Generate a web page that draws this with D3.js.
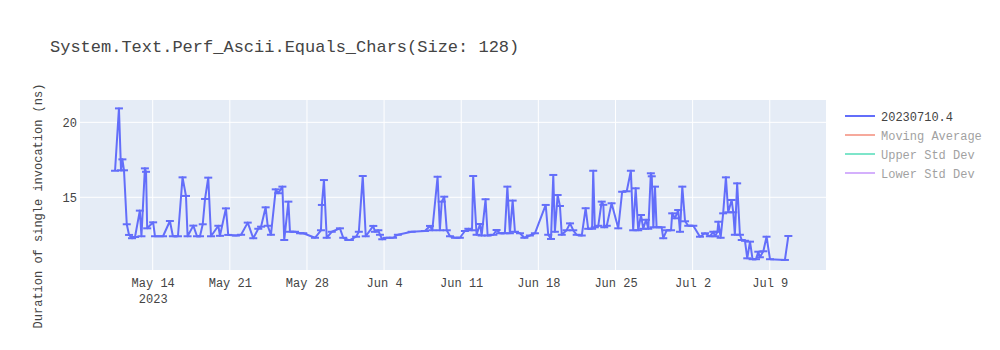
<!DOCTYPE html>
<html>
<head>
<meta charset="utf-8">
<script src="https://cdn.jsdelivr.net/npm/d3@7"></script>
<style>
  html, body { margin: 0; padding: 0; background: #fff; }
  svg { display: block; }
  text { font-family: "Courier New", "Liberation Mono", monospace; }
</style>
</head>
<body>
<div id="chart"></div>
<script>
const chartTitle = "System.Text.Perf_Ascii.Equals_Chars(Size: 128)";
const yTitle = "Duration of single invocation (ns)";
const seriesName = "20230710.4";
const legendNames = ["20230710.4", "Moving Average", "Upper Std Dev", "Lower Std Dev"];
const legendColors = ["#636efa", "#EF553B", "#00cc96", "#ab63fa"];
const legendVisible = [true, false, false, false];

const dates = [
  "2023-05-10T14:00","2023-05-10T22:30","2023-05-11T03:00","2023-05-11T06:00","2023-05-11T09:30",
  "2023-05-11T15:30","2023-05-11T20:30","2023-05-12T03:00","2023-05-12T09:30","2023-05-12T20:00",
  "2023-05-12T23:30","2023-05-13T07:00","2023-05-13T09:30","2023-05-13T12:00","2023-05-14T01:00",
  "2023-05-14T05:00","2023-05-14T22:30","2023-05-15T13:30","2023-05-15T20:00","2023-05-16T07:00",
  "2023-05-16T17:00","2023-05-17T00:30","2023-05-17T04:00","2023-05-17T16:30","2023-05-18T00:30",
  "2023-05-18T07:00","2023-05-18T13:00","2023-05-18T18:00","2023-05-19T01:00","2023-05-19T07:00",
  "2023-05-19T23:00","2023-05-20T02:30","2023-05-20T15:30","2023-05-20T20:30","2023-05-21T13:30",
  "2023-05-22T00:30","2023-05-22T15:00","2023-05-23T03:00","2023-05-23T14:00","2023-05-23T20:00",
  "2023-05-24T06:00","2023-05-24T10:30","2023-05-24T17:30","2023-05-25T04:00","2023-05-25T09:30",
  "2023-05-25T18:30","2023-05-25T22:30","2023-05-26T07:30","2023-05-26T11:00","2023-05-26T22:00",
  "2023-05-27T09:00","2023-05-27T16:00","2023-05-28T17:30","2023-05-29T06:30","2023-05-29T08:30",
  "2023-05-29T13:00","2023-05-29T19:00","2023-05-30T06:00","2023-05-30T23:50","2023-05-31T07:00",
  "2023-05-31T18:00","2023-05-31T21:30","2023-06-01T11:00","2023-06-01T17:00","2023-06-02T01:30",
  "2023-06-02T08:00","2023-06-03T00:30","2023-06-03T04:00","2023-06-03T11:30","2023-06-03T15:00",
  "2023-06-03T20:00","2023-06-04T05:30","2023-06-04T19:30","2023-06-05T06:00","2023-06-06T12:00",
  "2023-06-07T17:00","2023-06-08T04:00","2023-06-08T09:00","2023-06-08T20:30","2023-06-09T01:30",
  "2023-06-09T05:30","2023-06-09T11:00","2023-06-09T16:30","2023-06-09T23:30","2023-06-10T10:30",
  "2023-06-10T21:00","2023-06-11T08:00","2023-06-11T15:30","2023-06-11T23:30","2023-06-12T02:00",
  "2023-06-12T09:30","2023-06-12T17:00","2023-06-12T20:30","2023-06-13T05:00","2023-06-13T09:30",
  "2023-06-13T22:00","2023-06-14T05:00","2023-06-14T12:30","2023-06-14T23:00","2023-06-15T04:30",
  "2023-06-15T10:00","2023-06-15T16:00","2023-06-15T21:00","2023-06-16T08:00","2023-06-16T17:30",
  "2023-06-17T05:30","2023-06-17T16:30","2023-06-18T16:00","2023-06-18T21:30","2023-06-19T03:30",
  "2023-06-19T08:30","2023-06-19T12:00","2023-06-19T18:00","2023-06-19T23:00","2023-06-20T03:00",
  "2023-06-20T13:30","2023-06-20T21:00","2023-06-21T04:00","2023-06-21T11:30","2023-06-21T22:30",
  "2023-06-22T07:00","2023-06-22T12:30","2023-06-22T21:00","2023-06-22T23:30","2023-06-23T03:00",
  "2023-06-23T10:30","2023-06-23T18:00","2023-06-23T21:30","2023-06-23T23:30","2023-06-24T05:00",
  "2023-06-24T15:30","2023-06-25T06:00","2023-06-25T14:30","2023-06-26T00:30","2023-06-26T09:30",
  "2023-06-26T14:30","2023-06-26T20:00","2023-06-27T01:30","2023-06-27T07:30","2023-06-27T12:30",
  "2023-06-27T18:30","2023-06-27T23:30","2023-06-28T05:00","2023-06-28T07:00","2023-06-28T10:30",
  "2023-06-28T14:00","2023-06-28T17:30","2023-06-29T04:30","2023-06-29T08:00","2023-06-29T15:30",
  "2023-06-30T01:00","2023-06-30T03:30","2023-06-30T09:30","2023-06-30T16:30","2023-06-30T20:30",
  "2023-07-01T01:30","2023-07-01T07:30","2023-07-01T14:30","2023-07-02T01:30","2023-07-02T16:00",
  "2023-07-03T03:00","2023-07-03T13:30","2023-07-03T21:00","2023-07-04T01:00","2023-07-04T06:00",
  "2023-07-04T08:00","2023-07-04T13:00","2023-07-04T18:30","2023-07-05T00:30","2023-07-05T05:30",
  "2023-07-05T13:00","2023-07-05T16:30","2023-07-05T20:00","2023-07-06T01:00","2023-07-06T07:00",
  "2023-07-06T11:00","2023-07-06T18:00","2023-07-06T23:00","2023-07-07T05:00","2023-07-07T10:30",
  "2023-07-07T18:00","2023-07-07T23:00","2023-07-08T02:30","2023-07-08T10:00","2023-07-08T17:00",
  "2023-07-09T00:30","2023-07-10T09:00","2023-07-10T16:30"
];

const values = [
  16.77,20.93,16.80,17.53,16.80, 13.20,12.49,12.27,12.35,14.11,
  12.40,16.93,16.70,12.93,13.33, 12.40,12.40,13.42,12.40,12.40,
  16.33,15.09,12.40,13.11,12.40, 12.40,13.20,14.89,16.31,12.40,
  13.10,12.43,14.26,12.49,12.45, 12.50,13.31,12.27,12.90,13.04,
  14.33,13.10,12.50,15.53,15.27, 15.71,12.15,14.71,12.70,12.70,
  12.60,12.60,12.30,12.80,14.49, 16.15,12.30,12.70,12.93,12.30,
  12.15,12.15,12.37,12.70,16.42, 12.40,13.09,12.70,12.80,12.50,
  12.20,12.30,12.30,12.50,12.70, 12.75,13.09,12.80,16.37,12.80,
  14.71,15.04,12.80,12.40,12.30, 12.30,12.75,12.90,12.80,16.42,
  12.50,13.22,12.45,14.87,12.45, 12.50,12.82,12.60,12.60,15.71,
  12.60,14.78,12.70,12.60,12.30, 12.45,12.60,14.49,12.50,12.22,
  16.49,12.70,15.15,14.42,12.50, 12.80,13.26,12.80,12.50,12.45,
  14.27,12.90,12.90,16.77,13.00, 13.10,14.71,14.50,13.00,13.10,
  14.60,12.93,15.37,15.40,16.77, 12.80,15.60,12.80,13.82,12.90,
  13.50,12.90,16.60,16.40,13.00, 15.71,13.00,13.00,12.27,12.80,
  12.80,13.93,13.60,14.15,12.70, 15.71,13.40,13.10,13.10,12.37,
  12.60,12.40,12.70,12.40,12.70, 13.37,12.30,13.93,16.33,14.00,
  14.82,14.00,12.50,15.93,12.50, 12.15,12.10,10.93,12.04,10.87,
  10.87,11.37,11.00,11.40,12.37, 10.87,10.82,12.42
];

const xTickDates = ["2023-05-14","2023-05-21","2023-05-28","2023-06-04","2023-06-11","2023-06-18","2023-06-25","2023-07-02","2023-07-09"];
const xTickLabels = ["May 14","May 21","May 28","Jun 4","Jun 11","Jun 18","Jun 25","Jul 2","Jul 9"];
const xTickYear = "2023";
const yTicks = [15, 20];
const xRange = ["2023-05-07T09:40", "2023-07-14T02:30"];
const yRange = [10.15, 21.49];

const W = 1000, H = 350;
const margin = {l: 80, r: 174, t: 100, b: 80};
const pw = W - margin.l - margin.r, ph = H - margin.t - margin.b;
const parse = d3.isoParse;
const data = dates.map((d, i) => ({date: parse(d), v: values[i]}));

const svg = d3.select("#chart").append("svg").attr("width", W).attr("height", H);
svg.append("rect").attr("width", W).attr("height", H).attr("fill", "#fff");

const x = d3.scaleTime().domain(xRange.map(parse)).range([0, pw]);
const y = d3.scaleLinear().domain(yRange).range([ph, 0]);

const g = svg.append("g").attr("transform", `translate(${margin.l},${margin.t})`);
g.append("rect").attr("width", pw).attr("height", ph).attr("fill", "#E5ECF6");

// gridlines
g.append("g").selectAll("line").data(xTickDates.map(parse)).join("line")
  .attr("x1", d => x(d)).attr("x2", d => x(d)).attr("y1", 0).attr("y2", ph)
  .attr("stroke", "#fff").attr("stroke-width", 1);
g.append("g").selectAll("line").data(yTicks).join("line")
  .attr("x1", 0).attr("x2", pw).attr("y1", d => y(d)).attr("y2", d => y(d))
  .attr("stroke", "#fff").attr("stroke-width", 1);

// axes
const xAxis = d3.axisBottom(x).tickValues(xTickDates.map(parse))
  .tickFormat((d, i) => xTickLabels[i]).tickSize(0).tickPadding(8);
const xg = g.append("g").attr("transform", `translate(0,${ph})`).call(xAxis);
xg.select(".domain").remove();
xg.selectAll("text").attr("fill", "#444").style("font-size", "12px")
  .style("font-family", '"Courier New", "Liberation Mono", monospace');
xg.selectAll(".tick").filter((d, i) => i === 0).append("text")
  .attr("fill", "#444").attr("y", 24).attr("dy", "0.71em").attr("text-anchor", "middle")
  .style("font-size", "12px").text(xTickYear);

const yAxis = d3.axisLeft(y).tickValues(yTicks).tickSize(0).tickPadding(3);
const yg = g.append("g").call(yAxis);
yg.select(".domain").remove();
yg.selectAll("text").attr("fill", "#444").style("font-size", "12px")
  .style("font-family", '"Courier New", "Liberation Mono", monospace');

// line
const clip = svg.append("clipPath").attr("id", "clip").append("rect").attr("width", pw).attr("height", ph);
const plot = g.append("g").attr("clip-path", "url(#clip)");
plot.append("path").datum(data)
  .attr("d", d3.line().x(d => x(d.date)).y(d => y(d.v)))
  .attr("fill", "none").attr("stroke", "#636efa").attr("stroke-width", 2)
  .attr("stroke-linejoin", "round");
// error bar caps
plot.append("g").selectAll("line").data(data).join("line")
  .attr("x1", d => x(d.date) - 4).attr("x2", d => x(d.date) + 4)
  .attr("y1", d => y(d.v)).attr("y2", d => y(d.v))
  .attr("stroke", "#636efa").attr("stroke-width", 2);

// title
svg.append("text").attr("x", 50).attr("y", 52).attr("fill", "#444")
  .style("font-size", "17px").text(chartTitle);

// y title
svg.append("text").attr("transform", `translate(42,206) rotate(-90)`)
  .attr("text-anchor", "middle").attr("fill", "#444").style("font-size", "12px").text(yTitle);

// legend
const lg = svg.append("g").attr("transform", "translate(845,116)");
legendNames.forEach((n, i) => {
  const it = lg.append("g").attr("transform", `translate(0,${i * 19})`)
    .attr("opacity", legendVisible[i] ? 1 : 0.5);
  it.append("line").attr("x1", 0).attr("x2", 30).attr("y1", 0).attr("y2", 0)
    .attr("stroke", legendColors[i]).attr("stroke-width", 2);
  it.append("text").attr("x", 36).attr("y", 4.5).attr("fill", "#444")
    .style("font-size", "12px").text(n);
});
</script>
</body>
</html>
